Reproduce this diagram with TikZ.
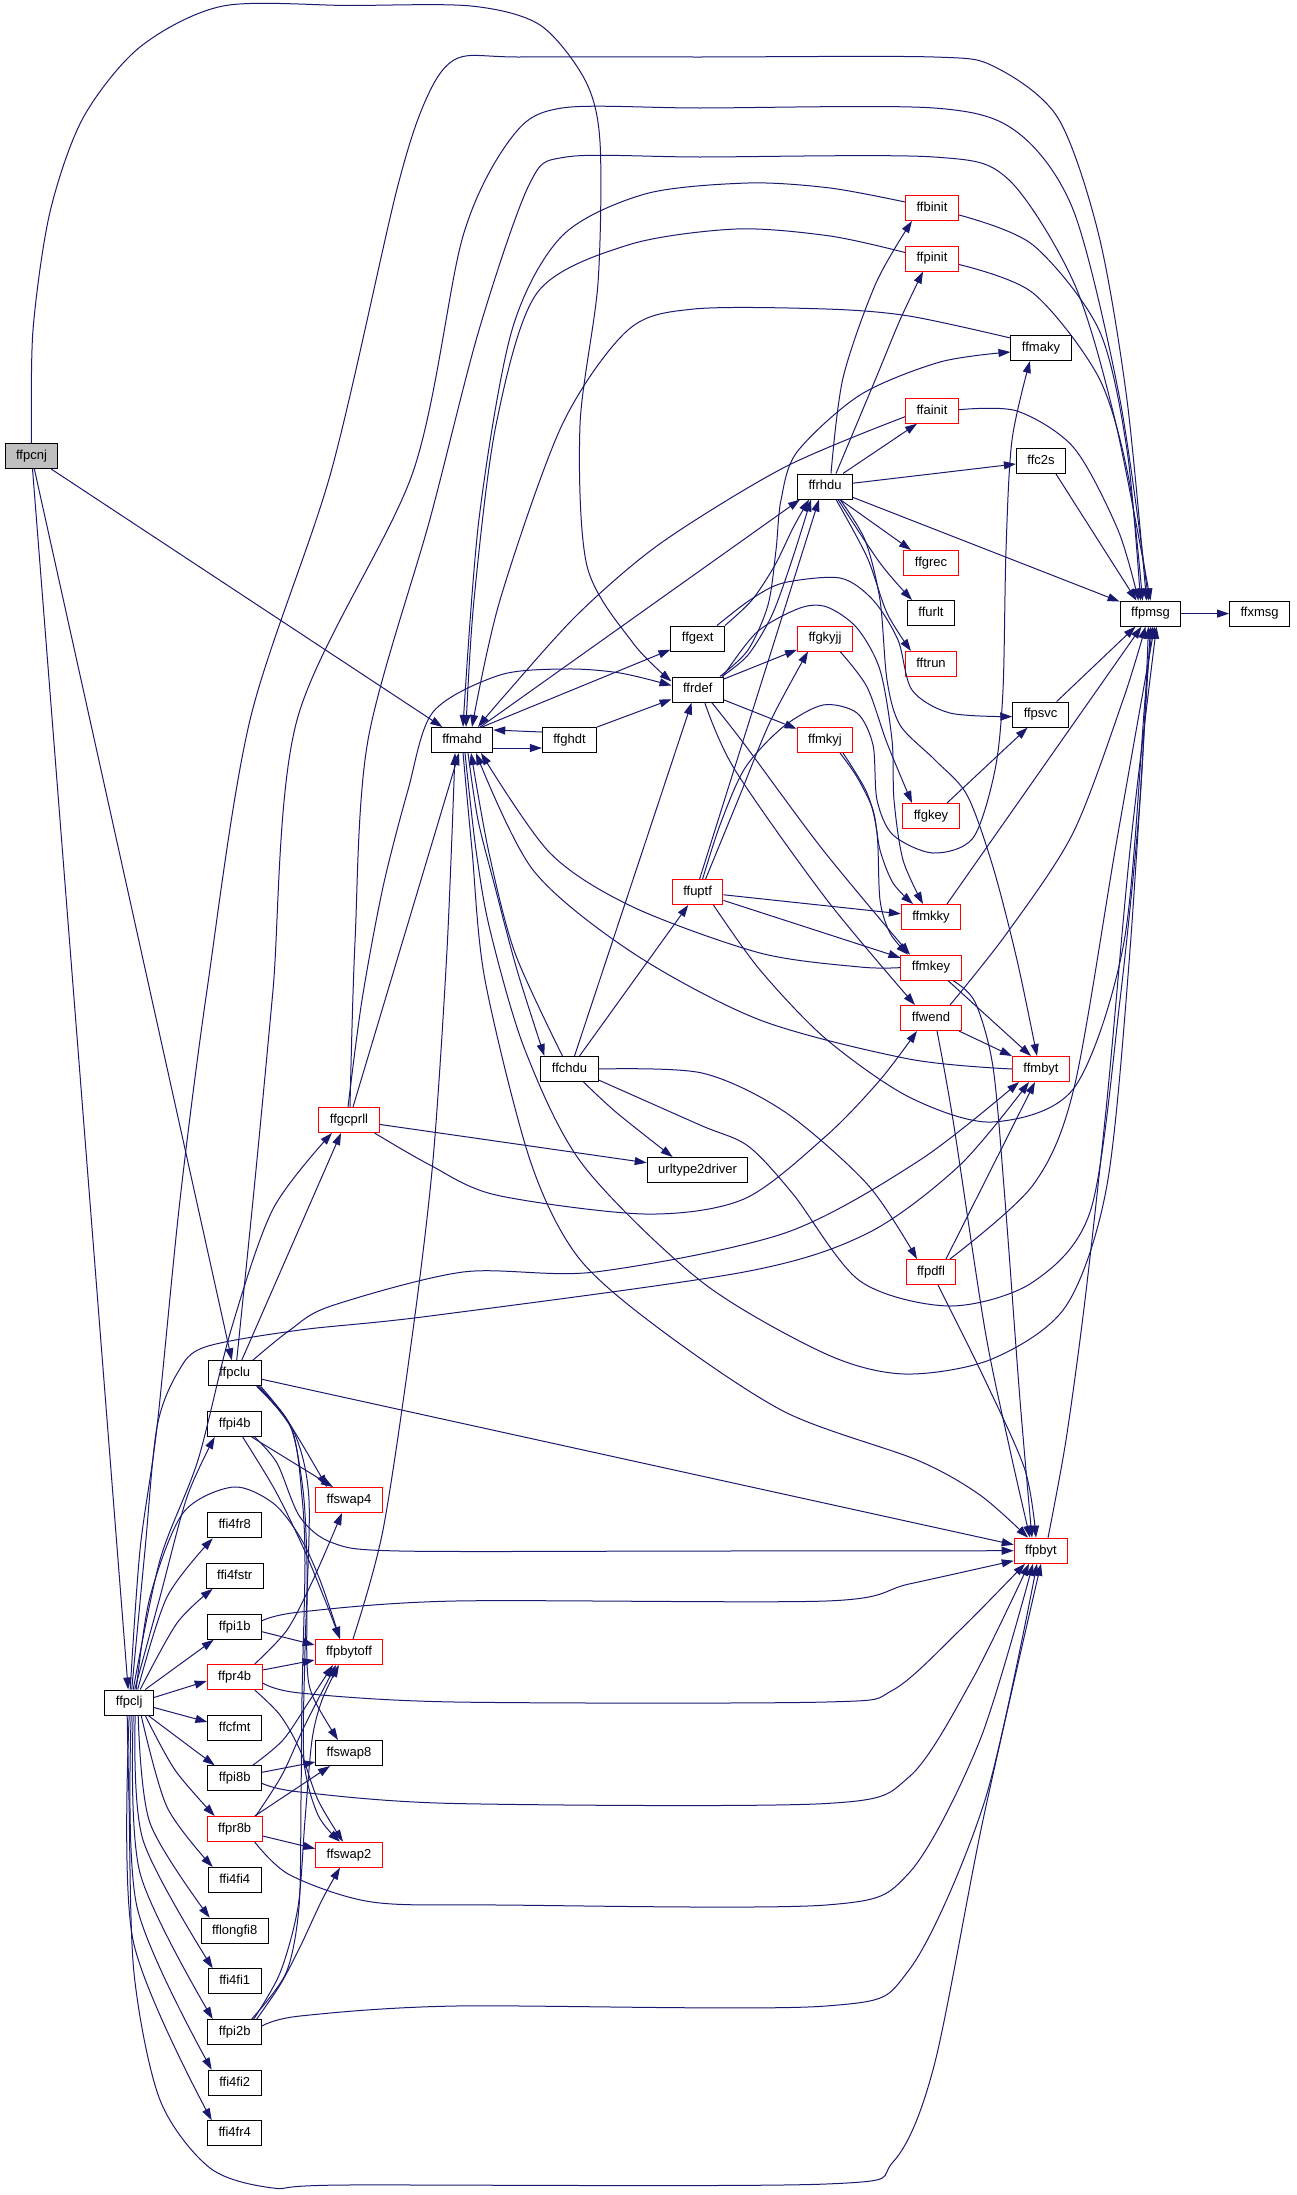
\documentclass[tikz,border=0pt]{standalone}
\usepackage{fontspec}
\setmainfont{Liberation Sans}
\usetikzlibrary{arrows.meta}
\definecolor{edgec}{HTML}{191970}
\definecolor{nodegray}{HTML}{BFBFBF}
\newcommand\nodefnt{\fontsize{13pt}{15pt}\selectfont}
\begin{document}
\begin{tikzpicture}[x=1pt,y=-1pt,
  nd/.style={draw=black,line width=1pt,fill=white,inner xsep=11pt,inner ysep=0pt,minimum height=25pt,text height=9.5pt,text depth=2.8pt,font=\nodefnt},
  rd/.style={nd,draw=red},
  e/.style={draw=edgec,line width=1pt,-{Triangle[length=12pt,width=8pt]}},
  pl/.style={draw=edgec,line width=1pt}]
\useasboundingbox (0,0) rectangle (1296,2195);
% nodes
\node[nd,fill=nodegray] (ffpcnj) at (31.5,456) {ffpcnj};
\node[nd] (ffmahd) at (462,740) {ffmahd};
\node[nd] (ffghdt) at (569.5,740) {ffghdt};
\node[nd] (ffgext) at (697.7,638.5) {ffgext};
\node[nd] (ffrdef) at (697.7,689.5) {ffrdef};
\node[nd] (ffrhdu) at (825,486.5) {ffrhdu};
\node[rd] (ffgkyjj) at (825,638.5) {ffgkyjj};
\node[rd] (ffmkyj) at (825,740) {ffmkyj};
\node[rd] (ffbinit) at (932,208) {ffbinit};
\node[rd] (ffpinit) at (932,258.5) {ffpinit};
\node[nd] (ffmaky) at (1041,348) {ffmaky};
\node[rd] (ffainit) at (932,410.7) {ffainit};
\node[nd] (ffc2s) at (1041,461) {ffc2s};
\node[rd] (ffgrec) at (931,563) {ffgrec};
\node[nd] (ffurlt) at (931,613) {ffurlt};
\node[rd] (fftrun) at (931,664) {fftrun};
\node[nd] (ffpmsg) at (1150.5,613.6) {ffpmsg};
\node[nd] (ffxmsg) at (1259.6,613.6) {ffxmsg};
\node[nd] (ffpsvc) at (1040.6,714.6) {ffpsvc};
\node[rd] (ffgkey) at (931,816) {ffgkey};
\node[rd] (ffuptf) at (697.6,892) {ffuptf};
\node[rd] (ffmkky) at (931,917) {ffmkky};
\node[rd] (ffmkey) at (931,967.6) {ffmkey};
\node[rd] (ffwend) at (931,1018) {ffwend};
\node[nd] (ffchdu) at (569.5,1069) {ffchdu};
\node[rd] (ffmbyt) at (1041,1069) {ffmbyt};
\node[rd] (ffgcprll) at (349,1120) {ffgcprll};
\node[nd] (urltype2driver) at (697.6,1170) {urltype2driver};
\node[rd] (ffpdfl) at (931,1272) {ffpdfl};
\node[nd] (ffpclu) at (234.7,1373.3) {ffpclu};
\node[nd] (ffpi4b) at (234.7,1424) {ffpi4b};
\node[rd] (ffswap4) at (349,1500) {ffswap4};
\node[nd] (ffi4fr8) at (234.7,1525.3) {ffi4fr8};
\node[rd] (ffpbyt) at (1041,1550.7) {ffpbyt};
\node[nd] (ffi4fstr) at (234.7,1575.8) {ffi4fstr};
\node[nd] (ffpi1b) at (234.7,1626.7) {ffpi1b};
\node[rd] (ffpbytoff) at (349,1652) {ffpbytoff};
\node[rd] (ffpr4b) at (234.7,1677) {ffpr4b};
\node[nd] (ffpclj) at (129.2,1702.5) {ffpclj};
\node[nd] (ffcfmt) at (234.7,1728) {ffcfmt};
\node[nd] (ffswap8) at (349,1753) {ffswap8};
\node[nd] (ffpi8b) at (234.7,1778.3) {ffpi8b};
\node[rd] (ffpr8b) at (234.7,1829) {ffpr8b};
\node[rd] (ffswap2) at (349,1854.7) {ffswap2};
\node[nd] (ffi4fi4) at (234.7,1880) {ffi4fi4};
\node[nd] (fflongfi8) at (234.7,1930.7) {fflongfi8};
\node[nd] (ffi4fi1) at (234.7,1981.3) {ffi4fi1};
\node[nd] (ffpi2b) at (234.7,2032) {ffpi2b};
\node[nd] (ffi4fi2) at (234.7,2082.7) {ffi4fi2};
\node[nd] (ffi4fr4) at (234.7,2133.3) {ffi4fr4};
% ffpcnj
\draw[e] plot[smooth] coordinates {(ffpcnj.north) (33,330) (50,212) (83,118) (140,47) (223,6) (350,5.5) (471,6) (540,25) (585,80) (600,142) (598,283) (580,425) (587,566) (633,643) ([yshift=8pt]ffrdef.west)};
\draw[e] (ffpcnj) -- (ffmahd);
\draw[e] (ffpcnj) -- (ffpclu);
\draw[e] (ffpcnj) -- (ffpclj);
% ffmahd / ffghdt
\draw[e] ([yshift=-8pt]ffmahd.east) -- ([yshift=-8pt]ffghdt.west);
\draw[e] ([yshift=8pt]ffghdt.west) -- ([yshift=10pt]ffmahd.east);
\draw[e] ([xshift=20pt]ffmahd.north) -- (ffgext);
\draw[e] (ffmahd) -- ([xshift=3pt]ffrhdu.south west);
\draw[e] plot[smooth] coordinates {([xshift=6pt]ffmahd.south) (478,820) (495,887) (517,970) ([xshift=4pt]ffchdu.north west)};
\draw[e] plot[smooth] coordinates {([xshift=-7pt]ffchdu.north) (515,953) (489,853) ([xshift=9pt]ffmahd.south)};
\draw[e] (ffghdt.north east) -- (ffrdef);
% into ffrhdu
\draw[e] plot[smooth] coordinates {(ffgext.north east) (752,600) (775,565) (793,528) ([xshift=-16pt]ffrhdu.south)};
\draw[e] plot[smooth] coordinates {([xshift=-2pt]ffrdef.north east) (748,655) (772,615) (792,560) ([xshift=-14pt]ffrhdu.south)};
\draw[e] ([xshift=2pt]ffuptf.north) -- ([xshift=-6pt]ffrhdu.south);
% ffuptf up
\draw[e] plot[smooth] coordinates {([xshift=8pt]ffuptf.north) (738,800) (770,722) ([xshift=-17pt]ffgkyjj.south)};
\draw[e] plot[smooth] coordinates {([xshift=5pt]ffuptf.north) (720,825) (745,768) (783,727) (823,705) (857,713) (873,745) (877,800) (893,835) (933,853) (973,838) (995,770) (1003,690) (1006,550) (1012,440) ([xshift=-11pt]ffmaky.south)};
% ffrdef out
\draw[e] (ffrdef) -- (ffgkyjj);
\draw[e] (ffrdef) -- (ffmkyj);
\draw[e] plot[smooth] coordinates {([xshift=-4pt]ffrdef.north east) (748,650) (768,605) (776,550) (781,500) (797,452) (860,395) (940,362) ([yshift=-4pt]ffmaky.west)};
\draw[e] plot[smooth] coordinates {([xshift=-1pt]ffrdef.north east) (757,632) (800,608) (827,607) (857,628) (880,670) (892,740) (894,800) (903,860) ([xshift=-8pt]ffmkky.north)};
\draw[e] plot[smooth] coordinates {([xshift=14pt]ffrdef.south) (745,745) (823,850) ([xshift=-21pt]ffmkey.north)};
\draw[e] plot[smooth] coordinates {([xshift=7pt]ffrdef.south) (735,770) (827,900) ([xshift=-16pt]ffwend.north)};
% ffrhdu out
\draw[e] plot[smooth] coordinates {([xshift=15pt]ffrhdu.south) (865,540) (880,600) (887,680) (900,725) (935,760) (967,795) (993,867) (1017,960) ([xshift=-4pt]ffmbyt.north)};
\draw[e] plot[smooth] coordinates {([xshift=6pt]ffrhdu.north) (843,378) (876,283) ([xshift=-20pt]ffbinit.south)};
\draw[e] plot[smooth] coordinates {([xshift=11pt]ffrhdu.north) (876,378) (900,320) ([xshift=-9pt]ffpinit.south)};
\draw[e] ([xshift=18pt]ffrhdu.north) -- ([xshift=-15pt]ffainit.south);
\draw[e] (ffrhdu) -- (ffc2s);
\draw[e] (ffrhdu) -- (ffpmsg);
\draw[e] ([xshift=15pt]ffrhdu.south) -- ([xshift=-20pt]ffgrec.north);
\draw[e] plot[smooth] coordinates {([xshift=13pt]ffrhdu.south) (880,563) ([xshift=-19pt]ffurlt.north)};
\draw[e] plot[smooth] coordinates {([xshift=11pt]ffrhdu.south) (867,557) (887,613) ([xshift=-20pt]fftrun.north)};
% into ffmahd from top
\draw[e] plot[smooth] coordinates {([yshift=6pt]ffbinit.west) (830,188) (748,183) (645,194) (562,236) (512,330) (479,519) ([xshift=1pt]ffmahd.north)};
\draw[e] plot[smooth] coordinates {([yshift=6pt]ffpinit.west) (830,236) (736,229) (628,245) (537,293) (496,425) (474,600) ([xshift=4pt]ffmahd.north)};
\draw[e] plot[smooth] coordinates {([yshift=10pt]ffmaky.west) (909,316) (826,309) (694,309) (628,330) (562,425) (500,600) ([xshift=10pt]ffmahd.north)};
\draw[e] plot[smooth] coordinates {([yshift=-6pt]ffainit.west) (785,467) (661,543) (578,614) (505,695) ([xshift=16pt]ffmahd.north)};
% into ffpmsg top
\draw[e] plot[smooth] coordinates {([yshift=-7pt]ffbinit.east) (1033,245) (1099,330) (1127,450) ([xshift=-10pt]ffpmsg.north)};
\draw[e] plot[smooth] coordinates {([yshift=-6pt]ffpinit.east) (1033,293) (1099,378) (1129,480) ([xshift=-8pt]ffpmsg.north)};
\draw[e] plot[smooth] coordinates {([yshift=1pt]ffainit.east) (1017,411) (1074,448) (1118,530) ([xshift=-12pt]ffpmsg.north)};
\draw[e] ([xshift=15pt]ffc2s.south) -- ([xshift=-14pt]ffpmsg.north);
\draw[e] plot[smooth] coordinates {([xshift=1pt]ffpclj.north) (140,1550) (157,1427) (180,1200) (207,990) (250,720) (331,472) (397,189) (428,95) (458,58) (520,57) (700,57) (934,57) (995,67) (1058,118) (1099,236) (1127,400) ([xshift=-4pt]ffpmsg.north)};
\draw[e] plot[smooth] coordinates {([xshift=2pt]ffpclu.north) (255,1180) (273,990) (297,720) (413,472) (463,236) (512,137) (562,108) (700,108) (934,108) (1017,132) (1074,212) (1120,400) ([xshift=-2pt]ffpmsg.north)};
\draw[e] plot[smooth] coordinates {([xshift=1pt]ffgcprll.north) (355,942) (368,740) (430,519) (479,330) (529,185) (566,157) (700,157) (934,157) (1008,179) (1074,283) (1115,420) (ffpmsg.north)};
% ffgcprll
\draw[e] plot[smooth] coordinates {([xshift=-1pt]ffgcprll.north) (362,1000) (383,887) (408,790) (433,712) (500,675) (567,669) (620,673) ([yshift=4pt]ffrdef.west)};
\draw[e] ([xshift=4pt]ffgcprll.north) -- ([xshift=-3pt]ffmahd.south);
\draw[e] (ffgcprll) -- (urltype2driver);
\draw[e] plot[smooth] coordinates {([xshift=-5pt]ffgcprll.south east) (430,1165) (496,1195) (645,1214) (744,1199) (826,1136) (880,1080) ([xshift=-14pt]ffwend.south)};
% ffchdu
\draw[e] ([xshift=5pt]ffchdu.north) -- ([xshift=-6pt]ffrdef.south);
\draw[e] ([xshift=10pt]ffchdu.north) -- (ffuptf);
\draw[e] plot[smooth] coordinates {([xshift=14pt]ffchdu.south) (617,1113) ([xshift=-25pt]urltype2driver.north)};
\draw[e] plot[smooth] coordinates {(ffchdu.east) (702,1073) (785,1112) (868,1185) ([xshift=-14pt]ffpdfl.north)};
\draw[e] plot[smooth] coordinates {([yshift=-11pt]ffchdu.east) (700,1125) (748,1146) (793,1194) (860,1281) (950,1306) (1033,1282) (1091,1209) (1120,1000) (1140,800) ([xshift=-2pt]ffpmsg.south)};
% ffuptf
\draw[e] (ffuptf) -- (ffmkky);
\draw[e] (ffuptf) -- (ffmkey);
\draw[e] plot[smooth] coordinates {([xshift=-10pt]ffuptf.south east) (760,970) (826,1039) (909,1097) (992,1122) (1074,1088) (1124,942) (1145,700) ([xshift=2pt]ffpmsg.south)};
% ffmkyj
\draw[e] plot[smooth] coordinates {([xshift=15pt]ffmkyj.south) (857,777) (873,810) (880,850) (893,883) ([xshift=-18pt]ffmkky.north)};
\draw[e] plot[smooth] coordinates {([xshift=18pt]ffmkyj.south) (867,793) (877,833) (880,900) (890,933) ([xshift=-23pt]ffmkey.north)};
% ffgkyjj, ffgkey, ffgext, ffpsvc
\draw[e] plot[smooth] coordinates {([xshift=15pt]ffgkyjj.south) (867,687) (887,743) ([xshift=-19pt]ffgkey.north)};
\draw[e] ([xshift=16pt]ffgkey.north) -- ([xshift=-13pt]ffpsvc.south);
\draw[e] plot[smooth] coordinates {([xshift=-8pt]ffgext.north east) (750,600) (783,583) (840,578) (873,600) (898,640) (912,690) (950,713) ([yshift=-2pt]ffpsvc.west)};
\draw[e] ([xshift=16pt]ffpsvc.north) -- ([xshift=-15pt]ffpmsg.south);
\draw[e] ([xshift=16pt]ffmkky.north) -- ([xshift=-9pt]ffpmsg.south);
\draw[e] plot[smooth] coordinates {([xshift=19pt]ffwend.north) (1007,933) (1073,833) (1123,700) ([xshift=-5pt]ffpmsg.south)};
\draw[e] (ffpmsg) -- (ffxmsg);
% back to ffmahd
\draw[e] plot[smooth] coordinates {(ffmkey.west) (860,967) (760,953) (633,907) (550,853) ([xshift=19pt]ffmahd.south)};
\draw[e] plot[smooth] coordinates {(ffmbyt.west) (909,1059) (760,1020) (633,953) (533,870) ([xshift=14pt]ffmahd.south)};
\draw[e] plot[smooth] coordinates {([xshift=4pt]ffpbytoff.north) (383,1530) (413,1330) (433,1160) (447,950) ([xshift=-7pt]ffmahd.south)};
% ffmkey, ffwend, ffpdfl
\draw[e] ([xshift=17pt]ffmkey.south) -- ([xshift=-10pt]ffmbyt.north);
\draw[e] plot[smooth] coordinates {([xshift=22pt]ffmkey.south) (975,1002) (993,1067) (1005,1200) (1020,1400) ([xshift=-9pt]ffpbyt.north)};
\draw[e] ([xshift=28pt]ffwend.south) -- (ffmbyt.north west);
\draw[e] plot[smooth] coordinates {([xshift=6pt]ffwend.south) (953,1120) (985,1330) (1010,1450) ([xshift=-11pt]ffpbyt.north)};
\draw[e] ([xshift=15pt]ffpdfl.north) -- ([xshift=-6pt]ffmbyt.south);
\draw[e] plot[smooth] coordinates {([xshift=7pt]ffpdfl.south) (985,1380) (1025,1470) ([xshift=-5pt]ffpbyt.north)};
\draw[e] plot[smooth] coordinates {([xshift=19pt]ffpdfl.north) (1033,1185) (1074,1088) (1116,845) ([xshift=4pt]ffpmsg.south)};
\draw[e] plot[smooth] coordinates {([xshift=7pt]ffpbyt.north) (1066,1440) (1085,1300) (1107,1100) (1130,850) ([xshift=6pt]ffpmsg.south)};
% ffmahd down
\draw[e] plot[smooth] coordinates {([xshift=1pt]ffmahd.south) (472,850) (485,980) (530,1160) (578,1257) (661,1330) (785,1412) (917,1460) (980,1495) ([xshift=-13pt]ffpbyt.north)};
\draw[e] plot[smooth] coordinates {([xshift=3pt]ffmahd.south) (476,850) (490,930) (525,1050) (583,1165) (702,1282) (826,1354) (905,1374) (992,1359) (1066,1306) (1107,1185) (1130,950) (ffpmsg.south)};
% ffpclu
\draw[e] ([xshift=7pt]ffpclu.north) -- ([xshift=-8pt]ffgcprll.south);
\draw[e] plot[smooth] coordinates {([xshift=18pt]ffpclu.north) (290,1330) (331,1306) (463,1272) (595,1272) (785,1233) (920,1160) ([xshift=-22pt]ffmbyt.south)};
\draw[e] (ffpclu) -- (ffpbyt);
\draw[e] plot[smooth] coordinates {([xshift=-5pt]ffpclu.south east) (287,1420) ([xshift=-22pt]ffswap4.north)};
\draw[e] plot[smooth] coordinates {([xshift=-3pt]ffpclu.south east) (290,1425) (303,1490) (307,1565) (307,1663) (313,1697) ([xshift=-11pt]ffswap8.north)};
\draw[e] plot[smooth] coordinates {([xshift=-1pt]ffpclu.south east) (294,1432) (309,1500) (305,1650) (304,1760) (318,1815) ([xshift=-9pt]ffswap2.north)};
\draw[pl] plot[smooth] coordinates {([xshift=-4pt]ffpclu.south east) (292,1430) (302,1497) (305,1563) (302,1697) (301,1800) (299,1907) (286,1973) ([xshift=17pt]ffpi2b.north)};
% ffpi4b
\draw[e] ([xshift=17pt]ffpi4b.south) -- ([xshift=-16pt]ffswap4.north);
\draw[e] plot[smooth] coordinates {([xshift=8pt]ffpi4b.south) (275,1490) (303,1547) (325,1600) ([xshift=-9pt]ffpbytoff.north)};
\draw[e] plot[smooth] coordinates {([xshift=20pt]ffpi4b.south) (277,1463) (300,1517) (333,1543) (400,1551) (700,1551) (ffpbyt.west)};
% ffpclj
\draw[e] plot[smooth] coordinates {([xshift=7pt]ffpclj.north) (150,1597) (183,1513) (233,1487) (273,1503) (300,1537) (320,1580) ([xshift=-9pt]ffpbytoff.north)};
\draw[e] plot[smooth] coordinates {([xshift=4pt]ffpclj.north) (160,1560) (198,1460) (231,1330) (273,1209) ([xshift=-17pt]ffgcprll.south)};
\draw[e] plot[smooth] coordinates {([xshift=2.5pt]ffpclj.north) (145,1550) (157,1427) (178,1372) (205,1347) (300,1330) (430,1316) (744,1272) (868,1233) (960,1165) ([xshift=-12pt]ffmbyt.south)};
\draw[e] plot[smooth] coordinates {([xshift=5.5pt]ffpclj.north) (160,1597) (187,1497) ([xshift=-20pt]ffpi4b.south)};
\draw[e] plot[smooth] coordinates {([xshift=8.5pt]ffpclj.north) (167,1597) ([xshift=-22pt]ffi4fr8.south)};
\draw[e] plot[smooth] coordinates {([xshift=11pt]ffpclj.north) (177,1623) ([xshift=-22pt]ffi4fstr.south)};
\draw[e] ([xshift=16pt]ffpclj.north) -- ([xshift=-21pt]ffpi1b.south);
\draw[e] ([yshift=5pt]ffpclj.east) -- ([yshift=-4pt]ffpr4b.west);
\draw[e] ([yshift=-5pt]ffpclj.east) -- ([yshift=6pt]ffcfmt.west);
\draw[e] ([xshift=19pt]ffpclj.south) -- ([xshift=-20pt]ffpi8b.north);
\draw[e] plot[smooth] coordinates {([xshift=16pt]ffpclj.south) (175,1770) ([xshift=-20pt]ffpr8b.north)};
\draw[e] plot[smooth] coordinates {([xshift=12pt]ffpclj.south) (167,1807) ([xshift=-22pt]ffi4fi4.north)};
\draw[e] plot[smooth] coordinates {([xshift=9pt]ffpclj.south) (150,1823) ([xshift=-25pt]fflongfi8.north)};
\draw[e] plot[smooth] coordinates {([xshift=6pt]ffpclj.south) (143,1840) ([xshift=-22pt]ffi4fi1.north)};
\draw[e] plot[smooth] coordinates {([xshift=4pt]ffpclj.south) (140,1873) ([xshift=-22pt]ffpi2b.north)};
\draw[e] plot[smooth] coordinates {([xshift=2pt]ffpclj.south) (137,1907) ([xshift=-23pt]ffi4fi2.north)};
\draw[e] plot[smooth] coordinates {(ffpclj.south) (133,1940) ([xshift=-23pt]ffi4fr4.north)};
\draw[e] plot[smooth] coordinates {([xshift=-2pt]ffpclj.south) (129,1800) (134,1973) (160,2100) (210,2168) (273,2188) (345,2185) (826,2184) (893,2162) (934,2066) (983,1820) (ffpbyt.south)};
% into ffpbyt from left group
\draw[e] plot[smooth] coordinates {([yshift=6pt]ffpi1b.east) (300,1612) (455,1601) (826,1601) (909,1584) ([yshift=-10pt]ffpbyt.west)};
\draw[e] plot[smooth] coordinates {([yshift=-6pt]ffpr4b.east) (300,1693) (455,1702) (826,1702) (893,1690) (960,1630) ([xshift=-16pt]ffpbyt.south)};
\draw[e] plot[smooth] coordinates {([yshift=-5pt]ffpi8b.east) (300,1792) (455,1803.5) (826,1803.5) (909,1777) (972,1680) ([xshift=-12pt]ffpbyt.south)};
\draw[e] plot[smooth] coordinates {([xshift=-8pt]ffpr8b.south east) (290,1875) (372,1902) (500,1905) (826,1905) (909,1873) (980,1740) ([xshift=-8pt]ffpbyt.south)};
\draw[e] plot[smooth] coordinates {([yshift=6pt]ffpi2b.east) (300,2016) (455,2006) (826,2006) (909,1970) (985,1800) ([xshift=-4pt]ffpbyt.south)};
% swaps / pbytoff
\draw[e] ([yshift=-5pt]ffpi1b.east) -- ([yshift=7pt]ffpbytoff.west);
\draw[e] plot[smooth] coordinates {([xshift=20pt]ffpr4b.north) (287,1630) (313,1580) ([xshift=-7pt]ffswap4.south)};
\draw[e] ([yshift=7pt]ffpr4b.east) -- ([yshift=-8pt]ffpbytoff.west);
\draw[e] plot[smooth] coordinates {([xshift=-8pt]ffpr4b.south east) (280,1715) (300,1750) (318,1800) ([xshift=-6pt]ffswap2.north)};
\draw[e] ([yshift=6pt]ffpi8b.east) -- ([yshift=-9pt]ffswap8.west);
\draw[e] plot[smooth] coordinates {([xshift=18pt]ffpi8b.north) (283,1740) (310,1700) ([xshift=-16pt]ffpbytoff.south)};
\draw[e] ([xshift=20pt]ffpr8b.north) -- ([xshift=-19pt]ffswap8.south);
\draw[e] plot[smooth] coordinates {([xshift=21pt]ffpr8b.north) (282,1775) (305,1725) ([xshift=-13pt]ffpbytoff.south)};
\draw[e] ([yshift=-7pt]ffpr8b.east) -- ([yshift=6pt]ffswap2.west);
\draw[e] plot[smooth] coordinates {([xshift=22pt]ffpi2b.north) (280,1985) (300,1947) (322,1900) ([xshift=-9pt]ffswap2.south)};
\draw[e] plot[smooth] coordinates {([xshift=19pt]ffpi2b.north) (280,1973) (298,1907) (305,1820) (312,1740) (322,1700) ([xshift=-10pt]ffpbytoff.south)};
\end{tikzpicture}
\end{document}
